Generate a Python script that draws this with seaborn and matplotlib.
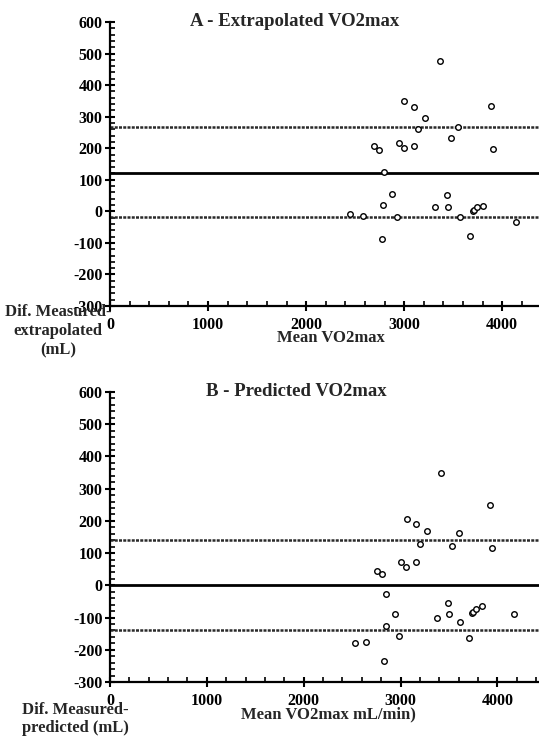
import matplotlib
matplotlib.use("Agg")
import matplotlib.pyplot as plt
import seaborn as sns
import pandas as pd
from matplotlib.ticker import MultipleLocator

# ---- data ----
a_mean = [3363, 3003, 3098, 3881, 3210, 3142, 3553, 3481, 2688, 2739, 2946,
          3000, 3098, 3902, 2790, 2875, 3441, 2786, 3319, 3451, 2451, 2580,
          2922, 3573, 3698, 3715, 3739, 3803, 4142, 3671, 2773]
a_diff = [475, 351, 331, 335, 297, 262, 267, 233, 206, 194, 216,
          200, 207, 198, 126, 54, 51, 21, 13, 15, -10, -14,
          -17, -19, 1, 5, 13, 17, -33, -77, -89]
a_lines = [267, 123, -19]   # upper limit, bias, lower limit

b_mean = [3421, 3924, 3066, 3155, 3272, 3603, 3203, 3528, 3945, 2755, 2807,
          3010, 3059, 3155, 2852, 3486, 2938, 3497, 3372, 3617, 3734, 3748,
          3779, 3845, 4176, 2848, 2983, 2528, 2645, 3710, 2834]
b_diff = [350, 249, 206, 191, 168, 161, 129, 122, 117, 43, 36,
          71, 58, 71, -26, -56, -90, -90, -100, -114, -87, -84,
          -72, -65, -89, -127, -156, -180, -175, -164, -236]
b_lines = [142, 0, -139]

titles = ["A - Extrapolated VO2max", "B - Predicted VO2max"]
xlabels = ["Mean VO2max", "Mean VO2max mL/min)"]
ylabels = ["Dif. Measured-\nextrapolated\n(mL)", "Dif. Measured-\npredicted (mL)"]
y_ticks = [-300, -200, -100, 0, 100, 200, 300, 400, 500, 600]
x_ticks = [0, 1000, 2000, 3000, 4000]

sns.set_style("ticks")
plt.rcParams["font.family"] = ["Liberation Serif", "DejaVu Serif"]
plt.rcParams["font.weight"] = "bold"
plt.rcParams["axes.unicode_minus"] = False

W, H = 539, 736
fig = plt.figure(figsize=(W / 100, H / 100), dpi=100)

def px_axes(left, top, right, bottom):
    return fig.add_axes([left / W, 1 - bottom / H, (right - left) / W, (bottom - top) / H])

axA = px_axes(110, 22, 539, 306)
axB = px_axes(110, 392, 539, 682)

panels = [
    (axA, a_mean, a_diff, a_lines, 4375),
    (axB, b_mean, b_diff, b_lines, 4430),
]

for i, (ax, xm, yd, lines, xmax) in enumerate(panels):
    df = pd.DataFrame({"mean": xm, "diff": yd})
    ax.set_xlim(0, xmax)
    ax.set_ylim(-300, 600)
    up, bias, lo = lines
    ax.axhline(up, color="#2a2a2a", lw=1.8, ls=(0, (1.2, 0.5)), zorder=1)
    ax.axhline(lo, color="#2a2a2a", lw=1.8, ls=(0, (1.2, 0.5)), zorder=1)
    ax.axhline(bias, color="black", lw=2.0, zorder=1)
    sns.scatterplot(data=df, x="mean", y="diff", ax=ax, marker="o", s=16,
                    facecolor="white", edgecolor="black", linewidth=1.0, zorder=3)
    for s in ["top", "right"]:
        ax.spines[s].set_visible(False)
    for s in ["left", "bottom"]:
        ax.spines[s].set_linewidth(1.6)
        ax.spines[s].set_color("black")
    ax.set_yticks(y_ticks)
    ax.set_xticks(x_ticks)
    ax.yaxis.set_minor_locator(MultipleLocator(20))
    ax.xaxis.set_minor_locator(MultipleLocator(200))
    ax.tick_params(which="major", direction="inout", length=7.5, width=1.5,
                   labelsize=11.5, colors="black")
    ax.tick_params(which="minor", direction="in", length=3.8, width=1.2, colors="black")
    ax.tick_params(axis="y", which="major", pad=1.5)
    ax.tick_params(axis="x", which="major", pad=4.5)
    for lab in ax.get_xticklabels() + ax.get_yticklabels():
        lab.set_fontweight("bold")
    ax.set_xlabel("")
    ax.set_ylabel("")
    ax.set_facecolor("white")

# titles
fig.text(295 / W, 1 - 22 / H, titles[0], ha="center", va="center", fontsize=13.5, fontweight="bold")
fig.text(296 / W, 1 - 392 / H, titles[1], ha="center", va="center", fontsize=13.5, fontweight="bold")

# x labels
fig.text(331 / W, 1 - 338 / H, xlabels[0], ha="center", va="center", fontsize=12, fontweight="bold")
fig.text(328 / W, 1 - 714 / H, xlabels[1], ha="center", va="center", fontsize=12, fontweight="bold")

# y labels
fig.text(58 / W, 1 - 331 / H, ylabels[0], ha="center", va="center", fontsize=12,
         fontweight="bold", linespacing=1.25)
fig.text(22 / W, 1 - 719 / H, ylabels[1], ha="left", va="center", fontsize=12,
         fontweight="bold", linespacing=1.1)

fig.savefig("out.png", dpi=100, facecolor="white")
